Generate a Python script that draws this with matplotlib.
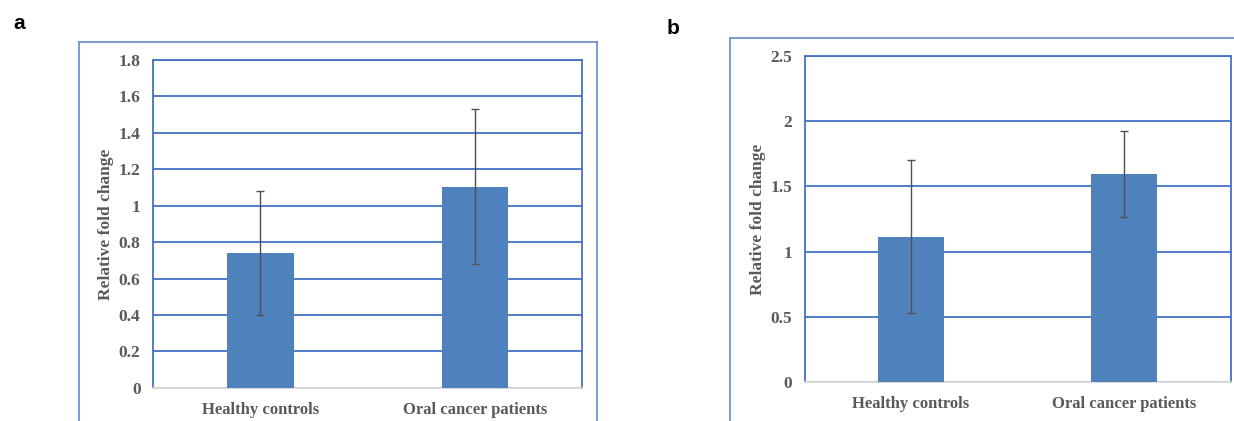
import matplotlib
matplotlib.use("Agg")
import matplotlib.pyplot as plt
from matplotlib.lines import Line2D

# data
groups = ["Healthy controls", "Oral cancer patients"]
fold_a = [0.74, 1.105]
err_a = [0.34, 0.425]
fold_b = [1.115, 1.597]
err_b = [0.588, 0.33]
ticks_a = [0, 0.2, 0.4, 0.6, 0.8, 1, 1.2, 1.4, 1.6, 1.8]
ticks_b = [0, 0.5, 1, 1.5, 2, 2.5]
tick_labels_b = ["0", "0.5", "1", "1.5", "2", "2.5"]

BAR = "#4F81BD"
GRID = "#4472C4"
FRAME = "#6E94CC"
TXT = "#595959"
SERIF = "Liberation Serif"

plt.rcParams['font.family'] = SERIF


def drawPanel(ax, vals, errs, ticks, labels):
    x = list(range(len(groups)))
    ax.bar(x, vals, width=0.31, color=BAR, zorder=3)
    ax.errorbar(x, vals, yerr=errs, fmt="none", ecolor="#505050",
                elinewidth=1.0, capsize=3, capthick=1.0, zorder=4)
    ax.set_xlim(-0.5, 1.5)
    ax.set_ylim(ticks[0], ticks[-1])
    ax.set_yticks(ticks)
    ax.set_yticklabels(labels)
    ax.yaxis.grid(True, color=GRID, linewidth=1.3, zorder=0)
    ax.set_axisbelow(True)
    ax.set_xticks(x)
    ax.set_xticklabels(groups)
    ax.tick_params(length=0, labelsize=12.5, labelcolor=TXT, pad=9)
    ax.tick_params(axis="x", labelsize=12, pad=10)
    for lab in ax.get_xticklabels() + ax.get_yticklabels():
        lab.set_fontweight("bold")
    for side in ["left", "top", "right"]:
        ax.spines[side].set_color(GRID)
        ax.spines[side].set_linewidth(1.3)
    ax.spines["bottom"].set_color("#D9D9D9")
    ax.spines["bottom"].set_linewidth(1.3)
    ax.set_ylabel("Relative fold change", fontsize=12.5, fontweight="bold",
                  color=TXT, labelpad=3)


fig = plt.figure(figsize=(12.34, 4.21), dpi=100)

axA = fig.add_axes([0.124, 0.079, 0.3477, 0.7784])
drawPanel(axA, fold_a, err_a, ticks_a, [("%g" % t) for t in ticks_a])

axB = fig.add_axes([0.652, 0.092, 0.3452, 0.7758])
drawPanel(axB, fold_b, err_b, ticks_b, tick_labels_b)

# outer chart frames
for xs, ys in [([0.064, 0.064], [-0.05, 0.9]), ([0.064, 0.4838], [0.9, 0.9]),
               ([0.4838, 0.4838], [0.9, -0.05]),
               ([0.5916, 0.5916], [-0.05, 0.9097]), ([0.5916, 1.01], [0.9097, 0.9097])]:
    fig.add_artist(Line2D(xs, ys, color=FRAME, linewidth=1.3))

fig.text(0.011, 0.945, "a", fontsize=15, fontweight="bold", family="Liberation Sans",
         va="center")
fig.text(0.540, 0.933, "b", fontsize=15, fontweight="bold", family="Liberation Sans",
         va="center")

fig.savefig("out.png", dpi=100)
